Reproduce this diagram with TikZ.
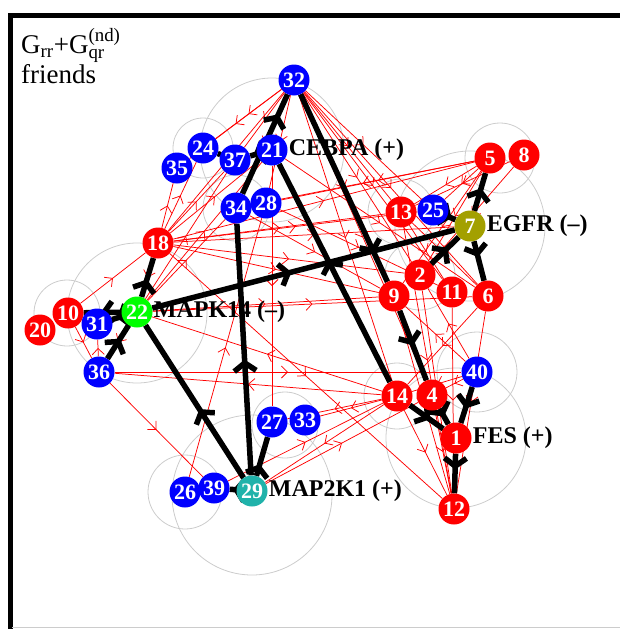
\documentclass[tikz,border=0pt]{standalone}
\usepackage{amsmath}
\usepackage{fontspec}
\setmainfont{Liberation Serif}
\usetikzlibrary{arrows.meta,decorations.markings,backgrounds,positioning}

\definecolor{gene-red}{HTML}{FF0000}
\definecolor{gene-blue}{HTML}{0000FF}
\definecolor{gene-green}{HTML}{00FF00}
\definecolor{gene-olive}{HTML}{A3A000}
\definecolor{gene-teal}{HTML}{20B2AA}
\definecolor{ring-gray}{HTML}{CCCCCC}

\tikzset{
  gene/.style={circle, fill=#1, text=white, inner sep=0pt, minimum size=31pt,
               font=\fontsize{22}{22}\selectfont\bfseries},
  tag/.style={font=\fontsize{24}{24}\selectfont\bfseries, inner sep=1pt},
  ring/.style={draw=ring-gray, line width=0.8pt},
  hit/.style={draw=black, line width=5.5pt, postaction={decorate},
              decoration={markings, mark=at position #1 with
                {\arrow{Straight Barb[length=8pt,width=22pt]}}}},
  friend/.style={draw=gene-red, line width=0.75pt, postaction={decorate},
              decoration={markings, mark=at position #1 with
                {\arrow{Straight Barb[length=6pt,width=12pt]}}}},
  friend/.default=0.5,
}

\begin{document}
\begin{tikzpicture}[x=1pt, y=-1pt]
  \useasboundingbox (0,0) rectangle (620,629);
  \draw[line width=5pt] (10,629) -- (10,15) -- (620,15);
  \draw[ring-gray, line width=1pt] (12,627) -- (620,627);

  \node[anchor=north west, align=left, inner sep=0pt,
        font=\fontsize{27}{29}\selectfont] (title) at (21,28)
        {G$_{\text{rr}}$+G$_{\text{qr}}^{\text{(nd)}}$\\[1pt]friends};

  % genes
  \foreach \id/\x/\y/\c in {32/294/80/gene-blue, 35/177/168/gene-blue,
      24/203/148/gene-blue, 37/235/160/gene-blue, 21/272/150/gene-blue,
      34/236/208/gene-blue, 28/266/203/gene-blue, 13/401/212/gene-red,
      25/433/210/gene-blue, 7/470/226/gene-olive, 5/490/158/gene-red,
      8/524/155/gene-red, 2/420/275/gene-red, 11/452/292/gene-red,
      6/488/296/gene-red, 9/394/296/gene-red, 18/158/243/gene-red,
      20/40/330/gene-red, 10/68/313/gene-red, 31/97/324/gene-blue,
      22/137/312/gene-green, 36/99/372/gene-blue, 40/477/372/gene-blue,
      14/397/396/gene-red, 4/432/395/gene-red, 1/456/438/gene-red,
      12/454/509/gene-red, 27/272/422/gene-blue, 33/305/420/gene-blue,
      26/185/492/gene-blue, 39/214/488/gene-blue, 29/252/491/gene-teal}
    \node[gene=\c] (n\id) at (\x,\y) {\id};

  \node[tag, right=0pt of n21] (cebpa) {CEBPA (+)};
  \node[tag, right=0pt of n7] (egfr) {EGFR (\textendash)};
  \node[tag, right=0pt of n22] (mapk14) {MAPK14 (\textendash)};
  \node[tag, right=0pt of n1] (fes) {FES (+)};
  \node[tag, right=0pt of n29] (map2k1) {MAP2K1 (+)};

  \begin{pgfonlayer}{background}
    \foreach \x/\y/\r in {272/150/72, 203/148/30, 236/208/33, 401/212/33,
        470/226/75, 500/158/35, 420/275/35, 67/313/33, 137/313/70,
        477/372/40, 397/396/33, 456/438/70, 285/425/33, 185/492/37,
        252/495/80}
      \draw[ring] (\x,\y) circle (\r pt);

    % friends
    \foreach \a/\b in {32/24, 32/35, 32/37, 32/18, 32/34, 32/28, 32/13,
        32/25, 32/2, 32/9, 32/11, 32/6, 32/14, 32/4, 18/24, 18/35, 18/37,
        18/21, 18/13, 18/25, 18/7, 18/5, 18/2, 18/9, 18/12, 18/22, 22/37,
        22/34, 22/21, 22/10, 22/31, 22/36, 22/9, 22/6, 10/18, 10/36,
        36/40, 36/39, 36/31, 5/13, 5/25, 5/28, 5/34, 5/9, 5/2, 8/13, 8/2,
        13/6, 13/11, 13/12, 2/12, 9/12, 6/14, 6/12, 40/14, 40/4, 40/9,
        40/2, 14/12, 4/12, 14/33, 14/27, 14/29, 39/14, 14/22, 14/36,
        26/28, 21/27, 29/4, 34/9, 28/11, 11/12, 21/6}
      \draw[friend] (n\a) -- (n\b);

    % regulation
    \foreach \a/\b/\p in {34/32/0.8, 21/37/0.5, 37/24/0.5, 32/9/0.85,
        14/21/0.56, 22/7/0.46, 25/7/0.5, 7/5/0.6, 7/6/0.4, 2/7/0.6,
        22/18/0.45, 22/10/0.55, 22/31/0.5, 36/22/0.6, 29/22/0.45,
        29/34/0.46, 29/27/0.3, 29/39/0.5, 9/4/0.5, 14/1/0.6, 4/1/0.5,
        40/1/0.6, 1/12/0.4}
      \draw[hit=\p] (n\a) -- (n\b);
  \end{pgfonlayer}
\end{tikzpicture}
\end{document}
